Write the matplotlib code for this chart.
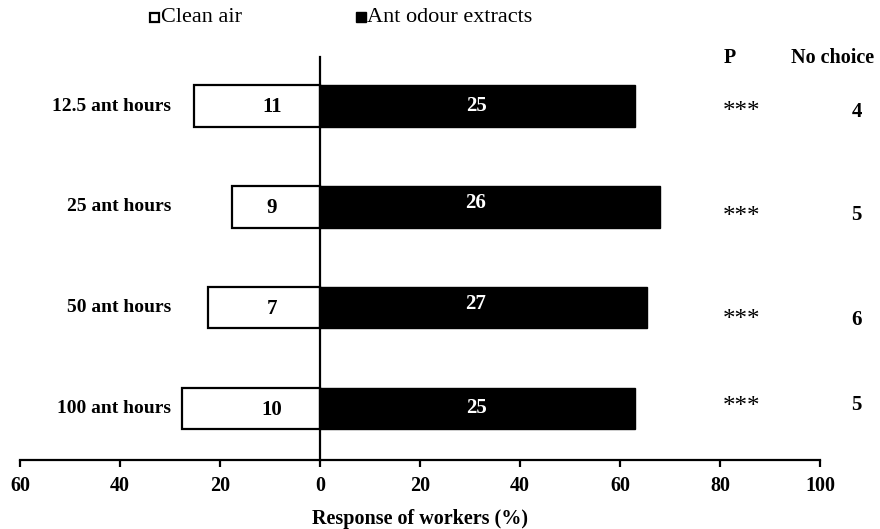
import matplotlib
matplotlib.use("Agg")
import matplotlib.pyplot as plt
from matplotlib.patches import Rectangle
from matplotlib.ticker import FixedLocator, FuncFormatter

# Dose groups (top to bottom)
groups = ["12.5 ant hours", "25 ant hours", "50 ant hours", "100 ant hours"]
# Counts of workers choosing each arm
clean_counts = [11, 9, 7, 10]
odour_counts = [25, 26, 27, 25]
no_choice = [4, 5, 6, 5]
p_marks = ["***", "***", "***", "***"]
# Response of workers (%) per arm, as drawn on the bars
clean_pct = [25.3, 17.7, 22.5, 27.7]
odour_pct = [62.9, 68.0, 65.4, 62.9]

xticks = [-60, -40, -20, 0, 20, 40, 60, 80, 100]

serif = ["Liberation Serif", "DejaVu Serif"]
plt.rcParams["font.family"] = serif

fig = plt.figure(figsize=(8.8, 5.29), dpi=100)
ax = fig.add_axes([20 / 880, 69.5 / 529, 800 / 880, (459.5 - 56.7) / 529])

ypos = list(range(len(groups)))
bar_h = 0.41

ax.barh(ypos, [-v for v in clean_pct], height=bar_h, color="white",
        edgecolor="black", linewidth=1.6, zorder=2)
ax.barh(ypos, odour_pct, height=bar_h, color="black",
        edgecolor="black", linewidth=1.0, zorder=2)

ax.set_xlim(-60, 100)
ax.set_ylim(3.506, -0.49)

# Spines: bottom axis and a vertical line at zero
for s in ["top", "right"]:
    ax.spines[s].set_visible(False)
ax.spines["left"].set_position(("data", 0))
ax.spines["left"].set_linewidth(1.6)
ax.spines["bottom"].set_linewidth(1.6)
ax.set_yticks([])

ax.xaxis.set_major_locator(FixedLocator(xticks))
ax.xaxis.set_major_formatter(FuncFormatter(lambda v, p: f"{abs(int(v))}"))
ax.tick_params(axis="x", direction="out", length=5, width=1.6, pad=7,
               labelsize=14.5)
for lbl in ax.get_xticklabels():
    lbl.set_fontweight("bold")

ax.set_xlabel("Response of workers (%)", fontsize=14.5, fontweight="bold",
              labelpad=9)

# Group labels, value labels, P and No choice columns
for i, g in enumerate(groups):
    ax.text(-29.8, i, g, ha="right", va="center", fontsize=14,
            fontweight="bold")
    ax.text(-9.6, i + 0.01, str(clean_counts[i]), ha="center", va="center",
            fontsize=15, fontweight="bold", color="black", zorder=3)
    ax.text(31.2, i - (0.04 if i in (1, 2) else 0.0), str(odour_counts[i]),
            ha="center", va="center", fontsize=15, fontweight="bold",
            color="white", zorder=3)

p_y = [0.06, 0.10, 0.12, -0.01]
n_y = [0.06, 0.08, 0.12, -0.03]
for i in range(len(groups)):
    ax.text(84.4, i + p_y[i], p_marks[i], ha="center", va="center",
            fontsize=18, clip_on=False)
    ax.text(107.3, i + n_y[i], str(no_choice[i]), ha="center", va="center",
            fontsize=15, fontweight="bold", clip_on=False)

fig.text(730 / 880, 1 - 58 / 529, "P", ha="center", va="center",
         fontsize=14.5, fontweight="bold")
fig.text(833 / 880, 1 - 58 / 529, "No choice", ha="center", va="center",
         fontsize=14.5, fontweight="bold")

# Legend row at the top
fig.patches.append(Rectangle((150 / 880, 1 - 22 / 529), 9 / 880, 9 / 529,
                             transform=fig.transFigure, facecolor="white",
                             edgecolor="black", linewidth=1.6))
fig.text(161 / 880, 1 - 17 / 529, "Clean air", ha="left", va="center",
         fontsize=16)
fig.patches.append(Rectangle((356 / 880, 1 - 22 / 529), 10 / 880, 10 / 529,
                             transform=fig.transFigure, facecolor="black",
                             edgecolor="black", linewidth=1.0))
fig.text(367 / 880, 1 - 17 / 529, "Ant odour extracts", ha="left",
         va="center", fontsize=16)

fig.savefig("out.png", dpi=100)
